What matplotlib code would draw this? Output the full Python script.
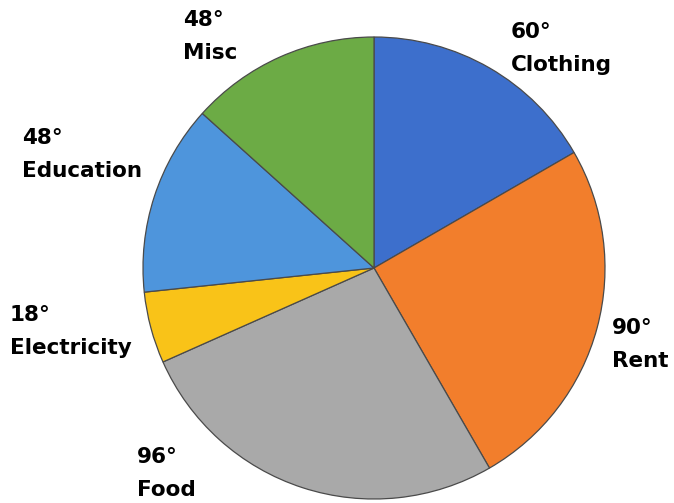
import matplotlib.pyplot as plt

# slice data (degrees), clockwise from the top
categories = ['Clothing', 'Rent', 'Food', 'Electricity', 'Education', 'Misc']
degrees = [60, 90, 96, 18, 48, 48]
colors = ['#3d6fcc', '#f27e2c', '#a9a9a9', '#f9c318', '#4e95dc', '#6cab45']

# label anchor (left, top) in pixel coords of the 674x503 image
label_pos = [(511, 22), (612, 318), (137, 447), (10, 305), (22, 128), (183, 10)]

W, H = 674, 503
fig = plt.figure(figsize=(W / 100, H / 100), dpi=100)
ax = fig.add_axes([0, 0, 1, 1])

cx, cy, r = 374, H - 268, 231
ax.pie(degrees, colors=colors, startangle=90, counterclock=False,
       center=(cx, cy), radius=r, frame=True,
       wedgeprops=dict(edgecolor='#4a4a4a', linewidth=0.9))
ax.set_xlim(0, W)
ax.set_ylim(0, H)
ax.set_aspect('equal')
ax.axis('off')

for name, deg, (x, y) in zip(categories, degrees, label_pos):
    ax.text(x, H - y, f'{deg}°\n{name}', ha='left', va='top',
            fontsize=15.5, fontweight='heavy', family='DejaVu Sans',
            linespacing=1.8, color='black')

fig.savefig('out.png', dpi=100)
